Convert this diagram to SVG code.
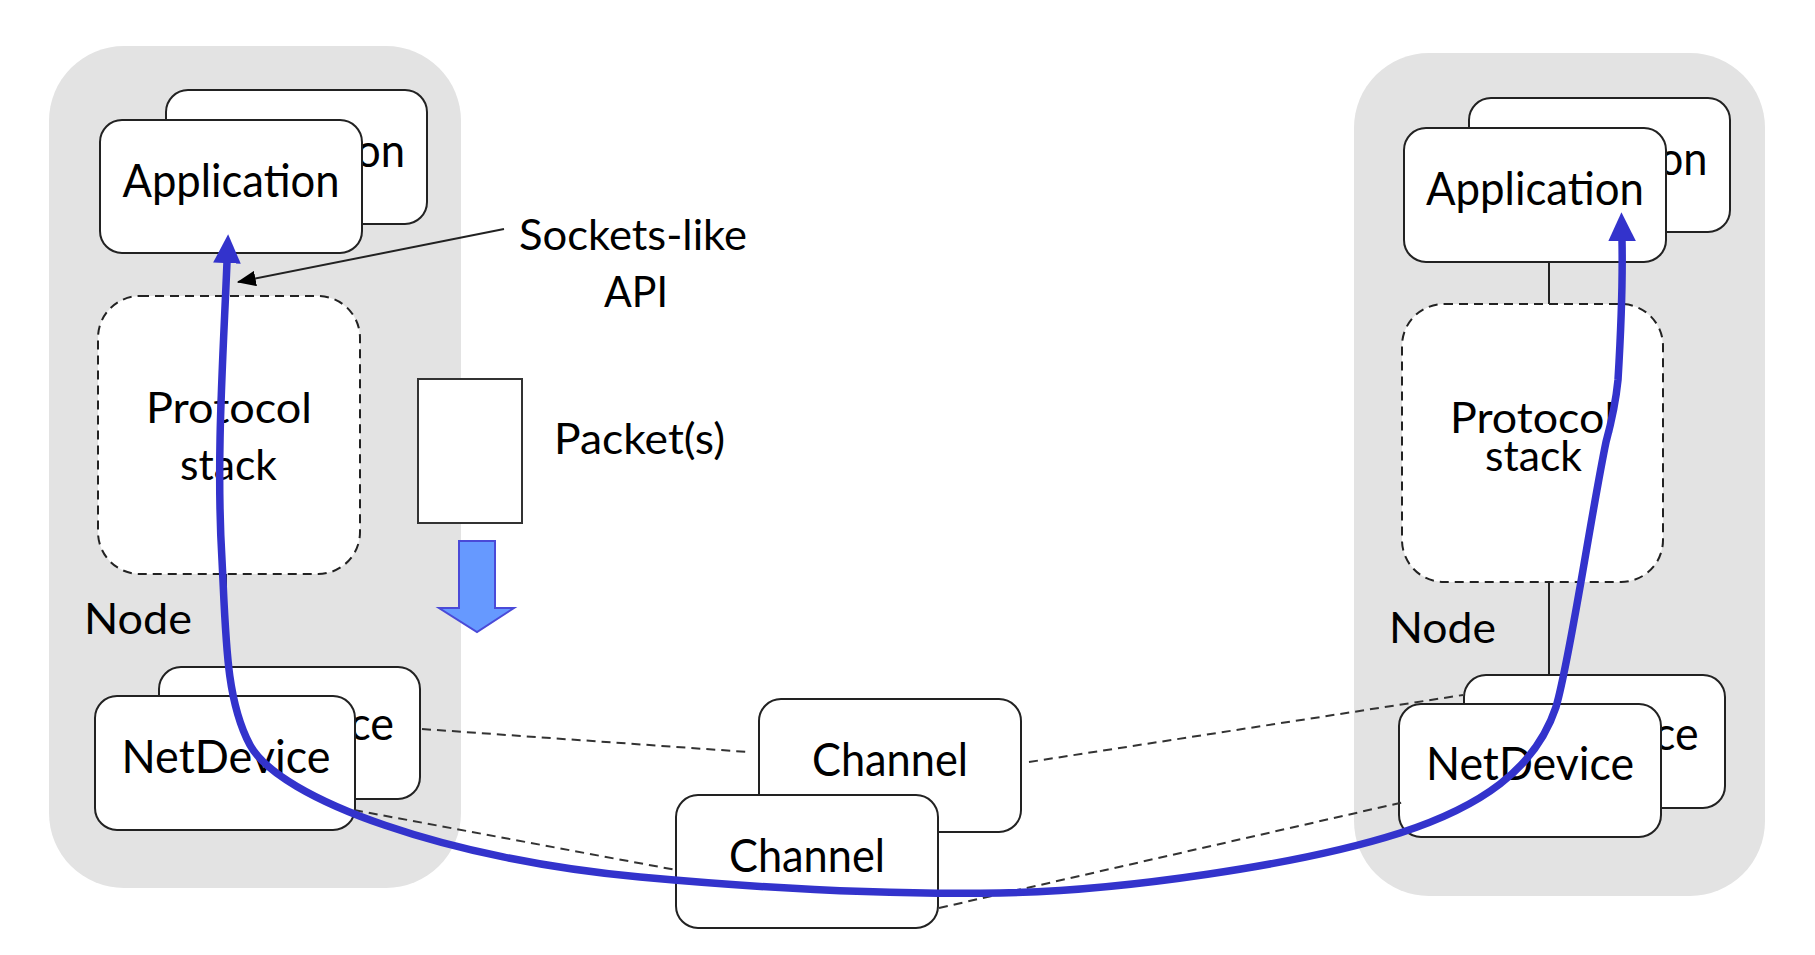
<svg xmlns="http://www.w3.org/2000/svg" width="1815" height="955" viewBox="0 0 1815 955">
<style>
.bg{fill:#e3e3e3;stroke:none}
.box{fill:#fff;stroke:#222;stroke-width:2}
.dbox{fill:#fff;stroke:#222;stroke-width:2;stroke-dasharray:9 6}
.t{font-family:Lato,"Liberation Sans",sans-serif;fill:#000}
.n{font-size:46px;text-anchor:middle}
.a{font-size:42px}
.dl{stroke:#333;stroke-width:2;stroke-dasharray:9 6;fill:none}
.sl{stroke:#222;stroke-width:2;fill:none}
.flow{stroke:#3333cc;stroke-width:7.5;fill:none;stroke-linecap:butt}
</style>
<defs>
<marker id="bh" markerUnits="userSpaceOnUse" markerWidth="30" markerHeight="30" refX="1" refY="12" viewBox="0 0 26 24" orient="auto-start-reverse">
<path d="M0,0 L25,12 L0,24 z" fill="#3333cc"/>
</marker>
<marker id="kh" markerUnits="userSpaceOnUse" markerWidth="20" markerHeight="16" refX="16" refY="7" viewBox="0 0 18 14" orient="auto">
<path d="M0,0 L17,7 L0,14 z" fill="#000"/>
</marker>
</defs>

<g id="node-left">
<rect class="bg" x="49" y="46" width="412" height="842" rx="75"/>
</g>
<g id="node-right">
<rect class="bg" x="1354" y="53" width="411" height="843" rx="75"/>
</g>

<g id="connectors-static">
<line class="sl" x1="226" y1="253" x2="226" y2="296"/>
<line class="sl" x1="226" y1="574" x2="226" y2="667"/>
<line class="sl" x1="1549" y1="262" x2="1549" y2="304"/>
<line class="sl" x1="1549" y1="582" x2="1549" y2="675"/>
</g>

<g id="app-left-back">
<rect class="box" x="166" y="90" width="261" height="134" rx="22"/>
<text class="t n" x="296.5" y="167" textLength="217" lengthAdjust="spacingAndGlyphs">Application</text>
</g>
<g id="app-left">
<rect class="box" x="100" y="120" width="262" height="133" rx="22"/>
<text class="t n" x="231" y="197" textLength="217" lengthAdjust="spacingAndGlyphs">Application</text>
</g>
<g id="stack-left">
<rect class="dbox" x="98" y="296" width="262" height="278" rx="42"/>
<text class="t a" x="229" y="423" text-anchor="middle" textLength="166" lengthAdjust="spacingAndGlyphs">Protocol</text>
<text class="t a" x="228.5" y="480" text-anchor="middle" textLength="97" lengthAdjust="spacingAndGlyphs">stack</text>
</g>
<g id="label-node-left">
<text class="t a" x="84" y="634" textLength="108" lengthAdjust="spacingAndGlyphs">Node</text>
</g>
<g id="netdev-left-back">
<rect class="box" x="159" y="667" width="261" height="132" rx="22"/>
<text class="t n" x="289.5" y="740" textLength="209" lengthAdjust="spacingAndGlyphs">NetDevice</text>
</g>
<g id="netdev-left">
<rect class="box" x="95" y="696" width="260" height="134" rx="22"/>
<text class="t n" x="226" y="773" textLength="209" lengthAdjust="spacingAndGlyphs">NetDevice</text>
</g>

<g id="app-right-back">
<rect class="box" x="1469" y="98" width="261" height="134" rx="22"/>
<text class="t n" x="1599.5" y="175" textLength="216" lengthAdjust="spacingAndGlyphs">Application</text>
</g>
<g id="app-right">
<rect class="box" x="1404" y="128" width="262" height="134" rx="22"/>
<text class="t n" x="1535" y="205" textLength="218" lengthAdjust="spacingAndGlyphs">Application</text>
</g>
<g id="stack-right">
<rect class="dbox" x="1402" y="304" width="261" height="278" rx="42"/>
<text class="t a" x="1532.5" y="433" text-anchor="middle" textLength="165" lengthAdjust="spacingAndGlyphs">Protocol</text>
<text class="t a" x="1533.5" y="471" text-anchor="middle" textLength="97" lengthAdjust="spacingAndGlyphs">stack</text>
</g>
<g id="label-node-right">
<text class="t a" x="1389" y="643" textLength="107" lengthAdjust="spacingAndGlyphs">Node</text>
</g>
<g id="netdev-right-back">
<rect class="box" x="1464" y="675" width="261" height="133" rx="22"/>
<text class="t n" x="1594.5" y="750" textLength="208" lengthAdjust="spacingAndGlyphs">NetDevice</text>
</g>
<g id="netdev-right">
<rect class="box" x="1399" y="704" width="262" height="133" rx="22"/>
<text class="t n" x="1530" y="780" textLength="208" lengthAdjust="spacingAndGlyphs">NetDevice</text>
</g>

<g id="channel-back">
<rect class="box" x="759" y="699" width="262" height="133" rx="22"/>
<text class="t n" x="890" y="776" textLength="156" lengthAdjust="spacingAndGlyphs">Channel</text>
</g>
<g id="channel-front">
<rect class="box" x="676" y="795" width="262" height="133" rx="22"/>
<text class="t n" x="807" y="872" textLength="156" lengthAdjust="spacingAndGlyphs">Channel</text>
</g>

<g id="packet">
<rect x="418" y="379" width="104" height="144" fill="#fff" stroke="#333" stroke-width="2"/>
<text class="t a" x="554" y="454" textLength="171" lengthAdjust="spacingAndGlyphs">Packet(s)</text>
</g>
<g id="down-arrow">
<polygon points="459,541 495,541 495,608 514,608 477,632 439,608 459,608" fill="#6699ff" stroke="#4a4ad8" stroke-width="2" stroke-linejoin="miter"/>
</g>
<g id="label-sockets">
<text class="t a" x="633" y="250" text-anchor="middle" textLength="228" lengthAdjust="spacingAndGlyphs">Sockets-like</text>
<text class="t a" x="636" y="307" text-anchor="middle" textLength="64" lengthAdjust="spacingAndGlyphs">API</text>
</g>

<g id="connectors">
<line class="dl" x1="422" y1="729" x2="748" y2="752"/>
<line class="dl" x1="354" y1="810" x2="676" y2="870"/>
<line class="dl" x1="1029" y1="762" x2="1463" y2="695"/>
<line class="dl" x1="939" y1="908" x2="1404" y2="802"/>
<path class="flow" marker-start="url(#bh)" marker-end="url(#bh)" d="M227,262 C223,360 216,460 222,560 C226,640 226,700 250,745 C280,800 450,860 640,877 C760,888 880,895 1000,893 C1120,891 1300,865 1400,833 C1480,807 1535,770 1556,707 C1570,660 1590,520 1606,442 C1612,420 1616,400 1618,380 C1621,330 1623,290 1622,240"/>
<line class="sl" x1="504" y1="229" x2="238" y2="282" marker-end="url(#kh)"/>
</g>
</svg>
